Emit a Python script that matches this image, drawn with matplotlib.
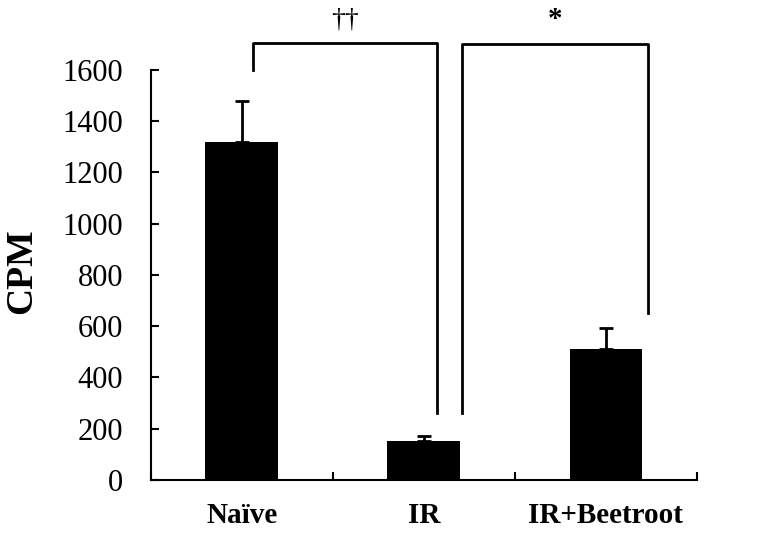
"""
plot.py

CPM bar chart for Naive, IR and IR+Beetroot groups with significance brackets.
"""

import matplotlib
matplotlib.use("Agg")
import matplotlib.pyplot as plt

categories = ["Naïve", "IR", "IR+Beetroot"]
cpm = [1320, 152, 511]
sem_upper = [160, 21, 82]
y_ticks = [0, 200, 400, 600, 800, 1000, 1200, 1400, 1600]

# significance brackets: (x_left, x_right, y_left_end, y_right_end, y_top, label)
brackets = [
    (0.56, 1.57, 1600, 262, 1706, "††"),
    (1.71, 2.73, 262, 652, 1700, "*"),
]

plt.rcParams["font.family"] = ["Liberation Serif", "DejaVu Serif"]


def main():
    fig = plt.figure(figsize=(7.6, 5.36), dpi=100)
    ax = fig.add_axes([0.1985, 0.1045, 0.7185, 0.765])

    x = [i + 0.5 for i in range(len(categories))]
    ax.bar(x, cpm, width=0.4, color="black", zorder=3)
    ax.errorbar(
        x,
        cpm,
        yerr=[[0] * len(sem_upper), sem_upper],
        fmt="none",
        ecolor="black",
        elinewidth=2,
        capsize=5,
        capthick=2,
        zorder=2,
    )

    ax.set_xlim(0, 3)
    ax.set_ylim(0, 1600)
    ax.set_yticks(y_ticks)
    ax.set_xticks(x)
    ax.set_xticklabels(categories, fontsize=21, fontweight="bold")
    ax.set_xticks([0, 1, 2, 3], minor=True)
    ax.tick_params(axis="x", which="major", length=0, pad=16)
    ax.tick_params(axis="x", which="minor", direction="in", length=6, width=1.5)
    ax.tick_params(axis="y", direction="in", length=6, width=1.5, pad=20, labelsize=22)

    for side in ["top", "right"]:
        ax.spines[side].set_visible(False)
    for side in ["left", "bottom"]:
        ax.spines[side].set_linewidth(1.5)

    ax.set_ylabel("CPM", fontsize=27, fontweight="bold")
    ax.yaxis.set_label_coords(-0.204, 0.51)

    for x0, x1, y0, y1, top, label in brackets:
        ax.plot([x0, x0, x1, x1], [y0, top, top, y1], color="black",
                linewidth=2, clip_on=False, solid_joinstyle="round")
    ax.text(1.065, 1745, brackets[0][5], ha="center", va="bottom",
            fontsize=20, clip_on=False)
    ax.text(2.22, 1745, brackets[1][5], ha="center", va="bottom",
            fontsize=21, fontweight="bold", clip_on=False)

    fig.savefig("out.png", dpi=100)


if __name__ == "__main__":
    main()
